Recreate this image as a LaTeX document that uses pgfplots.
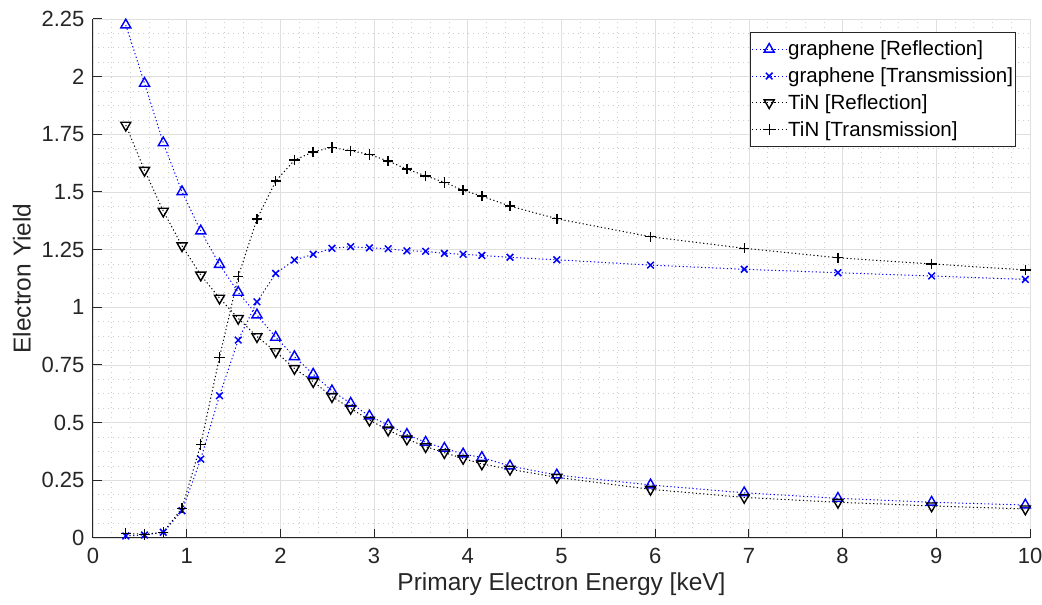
\documentclass[border=0pt]{standalone}
\usepackage{fontspec}
\setmainfont{Liberation Sans}
\usepackage{pgfplots}
\pgfplotsset{compat=1.18}
\definecolor{txt}{HTML}{262626}
\definecolor{majgrid}{HTML}{DFDFDF}
\definecolor{mingrid}{HTML}{CCCCCC}
\pgfplotstableread{
x gr gt tr tt
0.35 2.224 0.009 1.790 0.020
0.55 1.971 0.013 1.594 0.016
0.75 1.713 0.025 1.417 0.025
0.95 1.501 0.118 1.267 0.129
1.15 1.331 0.342 1.140 0.406
1.35 1.186 0.617 1.040 0.783
1.55 1.065 0.858 0.952 1.133
1.75 0.967 1.024 0.873 1.383
1.95 0.870 1.147 0.808 1.547
2.15 0.786 1.205 0.735 1.638
2.35 0.710 1.230 0.678 1.674
2.55 0.638 1.256 0.613 1.693
2.75 0.584 1.263 0.562 1.679
2.95 0.529 1.258 0.511 1.663
3.15 0.490 1.254 0.468 1.634
3.35 0.449 1.245 0.429 1.599
3.55 0.415 1.243 0.396 1.570
3.75 0.389 1.234 0.370 1.542
3.95 0.364 1.230 0.345 1.508
4.15 0.349 1.225 0.321 1.482
4.45 0.312 1.217 0.298 1.439
4.95 0.273 1.206 0.263 1.384
5.95 0.230 1.183 0.211 1.306
6.95 0.196 1.165 0.176 1.256
7.95 0.172 1.150 0.155 1.215
8.95 0.155 1.136 0.139 1.188
9.95 0.143 1.121 0.126 1.162
}\data
\begin{document}
\begin{tikzpicture}
\useasboundingbox (-93pt,-67pt) rectangle (949pt,538pt);
\begin{axis}[
  scale only axis,
  width=937pt, height=519pt,
  xmin=0, xmax=10, ymin=0, ymax=2.25,
  xtick={0,1,...,10},
  ytick={0,0.25,0.5,0.75,1,1.25,1.5,1.75,2,2.25},
  yticklabels={0,0.25,0.5,0.75,1,1.25,1.5,1.75,2,2.25},
  minor x tick num=4, minor y tick num=3,
  grid=both,
  major grid style={color=majgrid, line width=0.8pt},
  minor grid style={color=mingrid, line width=0.7pt, dash pattern=on 1pt off 4pt},
  axis x line*=bottom, axis y line*=left,
  x axis line style={-, color=txt, line width=1pt},
  y axis line style={-, color=txt, line width=1pt},
  tick align=inside,
  major tick length=9pt, minor tick length=0pt,
  every tick/.style={color=txt, line width=1pt},
  tick label style={font=\fontsize{22}{26}\selectfont, color=txt},
  xticklabel style={yshift=-7pt},
  yticklabel style={xshift=-5pt},
  /pgf/number format/assume math mode=true,
  label style={font=\fontsize{24.5}{28}\selectfont, color=txt},
  xlabel style={yshift=-2pt},
  ylabel style={yshift=4pt},
  xlabel={Primary Electron Energy [keV]},
  ylabel={Electron Yield},
  legend style={at={(0.985,0.974)}, anchor=north east, draw=txt, line width=0.8pt,
    font=\fontsize{20.5}{24}\selectfont, text=black, inner xsep=1pt, inner ysep=3pt,
    nodes={inner ysep=5.2pt, inner xsep=1.5pt}},
  legend cell align=left,
  legend image code/.code={\draw[mark repeat=2, mark phase=2] plot coordinates {(0pt,0pt) (17pt,0pt) (34pt,0pt)};},
  every axis plot/.append style={line width=1pt, dash pattern=on 1.2pt off 2.5pt},
]
\addplot[color=blue, mark=triangle, mark size=5.8pt, mark options={solid, line width=1.4pt}] table[x=x, y=gr] {\data};
\addlegendentry{graphene [Reflection]}
\addplot[color=blue, mark=x, mark size=4.7pt, mark options={solid, line width=1.5pt}] table[x=x, y=gt] {\data};
\addlegendentry{graphene [Transmission]}
\addplot[color=black, mark=triangle, mark size=5.8pt, mark options={solid, line width=1.4pt, rotate=180}] table[x=x, y=tr] {\data};
\addlegendentry{TiN [Reflection]}
\addplot[color=black, mark=+, mark size=5.2pt, mark options={solid, line width=1.4pt}] table[x=x, y=tt] {\data};
\addlegendentry{TiN [Transmission]}
\end{axis}
\end{tikzpicture}
\end{document}
